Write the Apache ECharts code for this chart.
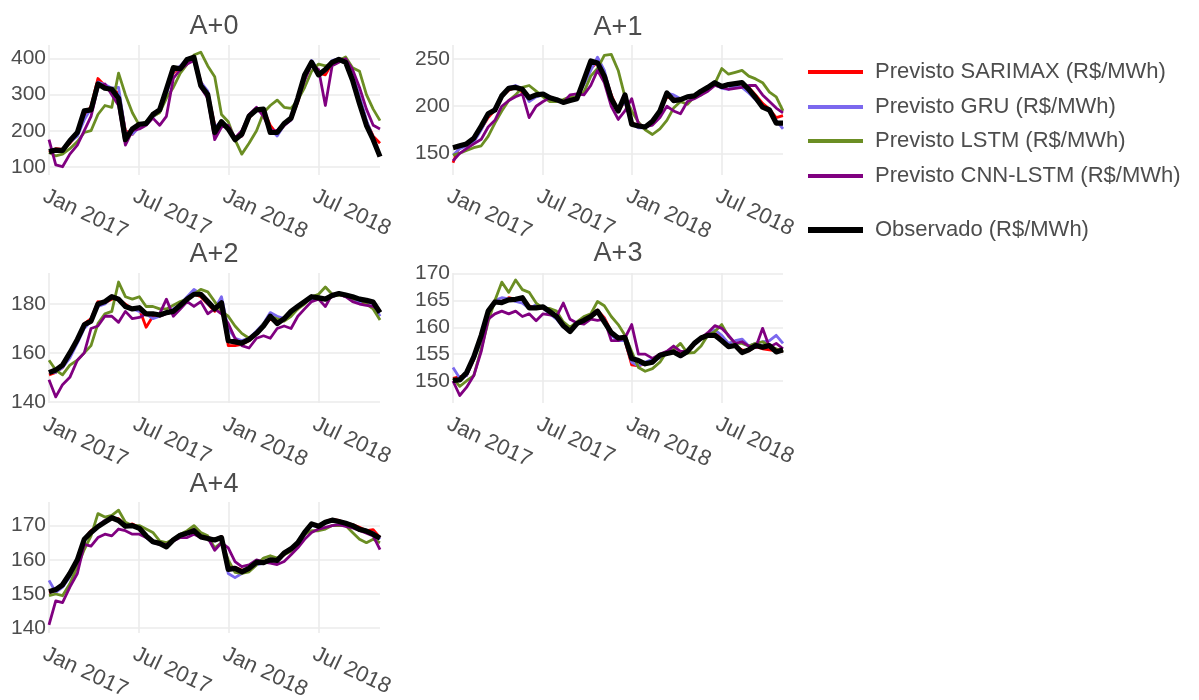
<!DOCTYPE html>
<html>
<head>
<meta charset="utf-8">
<title>Previsões de preço por horizonte A+0 a A+4</title>
<script src="https://cdn.jsdelivr.net/npm/echarts@6/dist/echarts.min.js"></script>
<style>
  html, body { margin: 0; padding: 0; background: #ffffff; }
  #chart { width: 1199px; height: 700px; }
</style>
</head>
<body>
<div id="chart"></div>
<script>
// ---- Time base: one observation every 14 days from 1 Jan 2017 ----
const START_DATE = '2017-01-01';
const STEP_DAYS = 14;
const N_POINTS = 49;

// ---- Labels ----
const panelTitles = ['A+0', 'A+1', 'A+2', 'A+3', 'A+4'];
const seriesNames = [
  'Previsto SARIMAX (R$/MWh)',
  'Previsto GRU (R$/MWh)',
  'Previsto LSTM (R$/MWh)',
  'Previsto CNN-LSTM (R$/MWh)',
  'Observado (R$/MWh)'
];
const xTickMonths = [0, 6, 12, 18];            // months after Jan 2017
const xTickLabels = ['Jan 2017', 'Jul 2017', 'Jan 2018', 'Jul 2018'];

// ---- A+0 ----
const sarimaxA0 = [140,150,148,165,190,240,268,345,325,315,305,200,190,215,222,240,255,305,360,378,395,408,335,305,215,215,210,180,185,235,260,258,215,190,215,232,280,345,390,360,355,388,398,392,350,290,225,185,165];
const gruA0 = [145,148,146,168,185,230,262,335,328,318,320,195,190,210,222,238,252,300,365,380,400,405,335,310,210,225,212,180,185,240,262,255,205,185,215,230,285,340,395,365,365,395,400,395,355,295,230,180,130];
const lstmA0 = [140,130,135,150,170,195,200,245,270,265,360,300,250,215,225,240,250,290,320,360,385,410,418,380,350,245,225,175,135,165,200,250,270,285,265,262,285,320,365,385,380,385,395,405,375,365,300,260,228];
const cnnLstmA0 = [175,105,100,135,160,200,240,320,330,300,270,160,200,205,215,235,215,240,345,370,385,395,320,290,175,210,215,180,200,245,265,240,200,200,215,230,285,340,385,370,270,380,390,400,370,320,260,215,205];
const observedA0 = [142,146,145,172,195,255,258,330,318,315,290,175,205,218,220,245,258,315,375,372,398,404,325,300,195,225,205,175,190,240,258,260,195,195,220,235,290,355,390,355,370,390,398,390,340,275,215,175,128];

// ---- A+1 ----
const sarimaxA1 = [140,158,158,163,176,188,196,210,217,220,215,210,212,213,210,207,205,206,210,225,240,247,235,212,195,205,183,178,177,183,195,210,208,207,210,210,215,219,223,220,222,223,224,220,212,203,197,188,190];
const gruA1 = [148,155,158,162,175,190,198,212,220,222,218,205,210,212,210,207,205,206,210,223,238,252,238,210,196,205,181,177,177,182,194,214,212,208,210,211,216,220,223,219,218,222,220,214,207,200,195,185,176];
const lstmA1 = [148,150,153,156,158,168,182,195,206,212,220,222,216,210,205,205,207,210,210,215,232,240,254,255,238,210,195,183,175,170,176,185,198,205,202,210,212,218,224,240,234,236,238,232,229,225,215,210,195];
const cnnLstmA1 = [142,150,155,160,165,178,185,200,206,210,213,188,200,205,209,206,204,212,213,212,222,238,225,200,186,195,208,181,178,180,188,200,195,192,205,208,212,216,222,220,218,219,220,222,222,212,205,198,193];
const observedA1 = [156,158,160,166,179,192,196,211,219,220,218,209,212,213,209,207,204,206,208,228,248,246,232,208,195,212,181,179,178,184,195,214,206,207,210,211,216,220,225,221,223,224,225,218,209,199,196,182,182];

// ---- A+2 ----
const sarimaxA2 = [151,152,154,159,165,172,174,181,180.5,182,182,180,178,178,170.5,175,175,176,177,179,182,184,183,180,177,180,163,163,163.5,165,168,171,174,172,173.5,176.5,178,181,183,182.5,182,183,184,183,182.5,181,180,181,177];
const gruA2 = [152,152,154,158,164,170,173,179,180,183,182,179,178,177,176,174,175,176,178,180,183,186,184,180,178,183,170,166,165,166,169,172,176.5,175,174,177,179,181,182,183,182,183,184,183,182,181,181,180,175];
const lstmA2 = [157,153,151,155,157,160,163,172,176,177,189,183,182,183,179,179,178,178,179.5,181,182,184,186,185,181,177,175,171,168,166,168,172,175,174,173,175,178,180,183,184,187,184,183.5,184,182,182,180,178,173.5];
const cnnLstmA2 = [149,142,147,150,157,160,170,171,175,175,172.5,177,174,174.5,176,175.5,176,182,175,178,181,179,181,176,178,176,172,166,163,162,166,167,166,170,171,170,175,178,181,182,179,184,184,183,181,180,179.5,179,177];
const observedA2 = [151.9,153,155,160,165.5,171.5,173,180,181,183,182,179,178,178.5,176,176,175.5,176.5,177,179.5,182,184,184,181,178,180.5,165,164.5,164,165.5,168,171,175,172,174,177,179,181,183,182.5,182,183.5,184.3,183.7,183,182,181.5,180.8,176.5];

// ---- A+3 ----
const sarimaxA3 = [150.5,150.8,151,154,158,162.5,165,164.8,165.5,165.2,165.5,164,163.5,163.5,162.8,161.8,160.5,159.5,160.5,161.5,162.3,163.2,161.8,159.2,157.8,157.5,153,152.8,153.3,153.8,154.5,155.3,155.6,155,155.3,156.8,158,158.8,158.8,158.3,156.8,156.4,155.8,155.6,156.4,156,155.8,155.6,155.5];
const gruA3 = [152.5,150.5,151,154,157.5,162,165,165.5,165.3,164.8,164.5,163.5,164.2,163.5,162.5,161.5,160,159.3,160.5,161.5,162,163,161.5,158.5,157.5,157.5,153.5,152.8,153.5,154,154.3,155.5,155.8,154.5,155.3,157,158,158.8,159.5,158.5,157,157.5,157.8,156.5,157,157.3,157.5,158.5,157];
const lstmA3 = [150.5,149,150,151,156,161,165,168.4,166.5,168.8,167,166.5,164.5,163.5,163.5,163,161,160,161,162,162.5,164.8,164,162,160.5,158.5,155.5,152.5,151.8,152.3,153.5,155.5,155.8,157,155.2,155.3,156.5,158.5,159.2,160.5,158.3,157,157,156.5,157,157.3,156.5,156,155.5];
const cnnLstmA3 = [150,147.3,148.8,151,155.5,161.5,162.5,163,162.5,163,162,162.5,161.2,162.5,162.3,162,164.5,161.5,160.8,160.6,161.5,161.3,161.5,157.5,157.5,158,160.5,155,155,154.2,155,155.5,156.5,155.5,155.5,157,158,159,160.3,159.8,158.5,157,157.3,156.5,156.2,159.8,156.3,157,156];
const observedA3 = [150.1,150.2,151.5,154.5,158.5,163,164.7,164.6,165.1,165.2,165.5,163.6,163.6,163.8,162.9,162,160.3,159.2,160.7,161.3,162,163,161,159,158,158.1,154.2,153.8,153.2,153.5,154.8,155.1,155.4,154.7,155.5,157,158,158.5,158.5,157.5,156.4,156.6,155.3,155.8,156.6,156.3,156.6,155.4,155.8];

// ---- A+4 ----
const sarimaxA4 = [150.5,151,152.5,155.5,159.5,166,168.5,170,171.5,172,172,170,170.5,169.5,167,165.5,164.5,164.5,166,167,168,169,167,166.5,166,166.8,158,157.8,157,157,159,159,159.8,160,161.5,163,165,167.8,170.3,170,171.2,171.8,171.5,170.8,170.3,169.5,168.5,168.8,166.5];
const gruA4 = [154,150.5,152,155,159,165.5,168,170,171.5,172.5,171.5,170,170,169,166.5,165,164.5,164,165.5,167,167.5,169,167,166.5,166,166.5,156,154.8,156,157,158.5,159,159.5,160,161.5,163,165,167.5,170,169.8,171,171.5,171,170.5,170,169,168,168,166];
const lstmA4 = [149.5,150,149.5,153,158,163,167,173.5,172.5,173,174.5,171,170,170,169,168,165.5,165,166,167.5,168.5,170,168,167,163.5,165,160,156.3,156,156.5,158.5,160.5,161.2,160.5,161.5,162.5,164.5,167.5,168.5,168.5,169,170,170,170,168,166,165,166,165];
const cnnLstmA4 = [141,148,147.5,152,156,164.5,164,166.5,167.5,167,169,168.5,167.5,167.5,166.5,165.5,164.5,164.5,165.5,166.5,166.5,167.5,166.5,166.5,162.8,165,163.5,159.5,158,158.5,160,159.3,159,158.6,159.5,161.5,163.5,166,168,169,169.5,170,170.3,169.8,169.3,168.6,167.8,167,163];
const observedA4 = [150.7,151.3,152.7,156,160,166,168,169.7,171,172.3,171.5,169.8,170,169.2,167,165.3,164.8,163.8,165.8,167.2,167.8,168.5,166.7,166.2,165.8,166.5,157.2,157.5,156.5,157.5,159.3,159.2,160,159.8,162,163.2,165,168,170.5,169.8,171,171.6,171.2,170.7,170,168.9,168.4,167.5,166.3];

const panelSeries = [
  [sarimaxA0, gruA0, lstmA0, cnnLstmA0, observedA0],
  [sarimaxA1, gruA1, lstmA1, cnnLstmA1, observedA1],
  [sarimaxA2, gruA2, lstmA2, cnnLstmA2, observedA2],
  [sarimaxA3, gruA3, lstmA3, cnnLstmA3, observedA3],
  [sarimaxA4, gruA4, lstmA4, cnnLstmA4, observedA4]
];

// ---- Layout and style ----
const FONT = '"Liberation Sans", Arial, Helvetica, sans-serif';
const TEXT_COLOR = '#4d4d4d';
const GRID_COLOR = '#ebebeb';
const lineColors = ['#ff0000', '#7b68ee', '#6b8e23', '#800080', '#000000'];
const lineWidths = [2.8, 2.8, 2.8, 2.8, 5.2];

const panelBoxes = [
  { left: 49,  top: 45,  width: 331, height: 130 },
  { left: 453, top: 45,  width: 330, height: 130 },
  { left: 49,  top: 273, width: 331, height: 130 },
  { left: 453, top: 273, width: 330, height: 130 },
  { left: 49,  top: 502, width: 331, height: 131 }
];
// y extent per panel (padded around the data) and split count giving 100 / 50 / 20 / 5 / 10 steps
const yExtents = [
  { min: 77,    max: 438,   split: 5 },
  { min: 127,   max: 265,   split: 3 },
  { min: 139.5, max: 192.7, split: 3 },
  { min: 145.9, max: 170.1, split: 5 },
  { min: 138.6, max: 176.9, split: 4 }
];
const titleCenters = [[214, 27], [618, 28], [214, 255], [618, 254], [214, 485]];
const legendCentersY = [72, 107, 141, 176, 230];

// ---- Dates -> months since Jan 2017 ----
function monthsSince2017(d) {
  const y = d.getUTCFullYear(), m = d.getUTCMonth(), day = d.getUTCDate();
  const daysInMonth = new Date(Date.UTC(y, m + 1, 0)).getUTCDate();
  return (y - 2017) * 12 + m + (day - 1) / daysInMonth;
}
const startMs = Date.parse(START_DATE + 'T00:00:00Z');
const xMonths = [];
for (let i = 0; i < N_POINTS; i++) {
  xMonths.push(monthsSince2017(new Date(startMs + i * STEP_DAYS * 86400000)));
}

const grids = [], xAxes = [], yAxes = [], series = [], graphics = [];

panelBoxes.forEach((box, p) => {
  grids.push(Object.assign({ containLabel: false, outerBoundsMode: 'none' }, box));

  xAxes.push({
    type: 'value',
    gridIndex: p,
    min: 0,
    max: 'dataMax',
    interval: 6,
    axisLine: { show: false },
    axisTick: { show: false },
    splitLine: { show: true, showMaxLine: false, lineStyle: { color: GRID_COLOR, width: 1.6 } },
    axisLabel: {
      show: true,
      showMaxLabel: false,
      rotate: -25,
      align: 'left',
      verticalAlign: 'top',
      margin: 10,
      fontSize: 22,
      fontFamily: FONT,
      color: TEXT_COLOR,
      formatter: (v) => {
        const k = xTickMonths.indexOf(Math.round(v * 1000) / 1000);
        return k >= 0 ? xTickLabels[k] : '';
      }
    }
  });

  const ext = yExtents[p];
  yAxes.push({
    type: 'value',
    gridIndex: p,
    min: ext.min,
    max: ext.max,
    splitNumber: ext.split,
    axisLine: { show: false },
    axisTick: { show: false },
    splitLine: {
      show: true, showMinLine: false, showMaxLine: false,
      lineStyle: { color: GRID_COLOR, width: 1.6 }
    },
    axisLabel: {
      showMinLabel: false,
      showMaxLabel: false,
      margin: 3,
      fontSize: 21,
      fontFamily: FONT,
      color: TEXT_COLOR
    }
  });

  panelSeries[p].forEach((values, s) => {
    series.push({
      type: 'line',
      name: seriesNames[s],
      xAxisIndex: p,
      yAxisIndex: p,
      data: values.map((v, i) => [xMonths[i], v]),
      showSymbol: false,
      symbol: 'none',
      silent: true,
      z: 2 + s,
      itemStyle: { color: lineColors[s] },
      lineStyle: { color: lineColors[s], width: lineWidths[s], join: 'round' }
    });
  });

  graphics.push({
    type: 'text',
    x: titleCenters[p][0],
    y: titleCenters[p][1],
    style: {
      text: panelTitles[p],
      align: 'center',
      verticalAlign: 'middle',
      font: '27px ' + FONT,
      fill: TEXT_COLOR
    }
  });
});

const legends = seriesNames.map((name, k) => ({
  data: [name],
  orient: 'vertical',
  left: 808,
  top: legendCentersY[k] - 13,
  padding: 0,
  icon: 'rect',
  itemWidth: 55,
  itemHeight: k === 4 ? 6 : 4,
  selectedMode: false,
  textStyle: {
    fontSize: 22,
    fontFamily: FONT,
    color: TEXT_COLOR,
    lineHeight: 26,
    padding: [0, 0, 0, 7]
  }
}));

const chart = echarts.init(document.getElementById('chart'), null, { renderer: 'canvas' });
chart.setOption({
  animation: false,
  backgroundColor: '#ffffff',
  textStyle: { fontFamily: FONT },
  grid: grids,
  xAxis: xAxes,
  yAxis: yAxes,
  legend: legends,
  series: series,
  graphic: graphics
});
</script>
</body>
</html>
